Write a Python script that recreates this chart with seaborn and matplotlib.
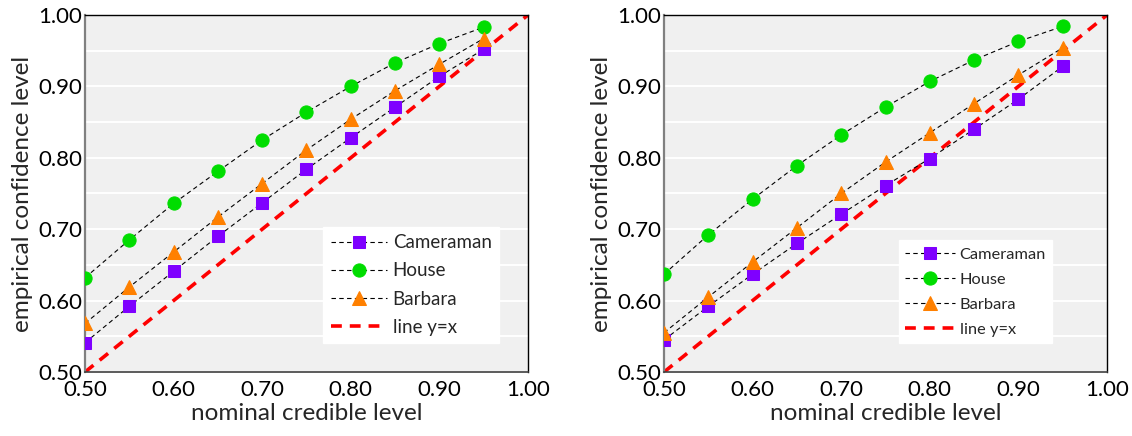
import numpy as np
import pandas as pd
import matplotlib
matplotlib.use("Agg")
import matplotlib.pyplot as plt
import seaborn as sns

# nominal credible levels (x axis)
nominal = [0.50, 0.55, 0.60, 0.65, 0.70, 0.75, 0.80, 0.85, 0.90, 0.95]

# left panel
left_cameraman = [0.541, 0.592, 0.641, 0.690, 0.737, 0.784, 0.828, 0.871, 0.914, 0.952]
left_house = [0.632, 0.685, 0.736, 0.781, 0.825, 0.864, 0.900, 0.933, 0.960, 0.983]
left_barbara = [0.568, 0.619, 0.668, 0.717, 0.764, 0.811, 0.854, 0.894, 0.931, 0.967]

# right panel
right_cameraman = [0.545, 0.592, 0.637, 0.680, 0.721, 0.761, 0.799, 0.840, 0.882, 0.928]
right_house = [0.637, 0.692, 0.742, 0.789, 0.832, 0.871, 0.907, 0.937, 0.963, 0.984]
right_barbara = [0.555, 0.605, 0.654, 0.702, 0.750, 0.794, 0.835, 0.876, 0.916, 0.954]

identity = [0.50, 1.00]
ticks = [0.5, 0.6, 0.7, 0.8, 0.9, 1.0]
tick_labels = ["0.50", "0.60", "0.70", "0.80", "0.90", "1.00"]

sns.set_style("white", {"axes.facecolor": "#F0F0F0"})
plt.rcParams["font.family"] = ["Lato", "DejaVu Sans"]

fig = plt.figure(figsize=(11.32, 4.36), dpi=100)
ax1 = fig.add_axes([0.0751, 0.1468, 0.3913, 0.8188])
ax2 = fig.add_axes([0.5866, 0.1468, 0.3913, 0.8188])

series_style = [
    ("Cameraman", "s", "#7F00FF", 9),
    ("House", "o", "#00DD00", 9.5),
    ("Barbara", "^", "#FF8000", 10.5),
]


def panel(ax, values, legend_size, legend_spacing, legend_anchor):
    for (name, mk, col, ms), ys in zip(series_style, values):
        df = pd.DataFrame({"x": nominal, "y": ys})
        sns.lineplot(data=df, x="x", y="y", ax=ax, color="black", lw=0.8,
                     linestyle=(0, (4, 3)), marker=mk, markersize=ms,
                     markerfacecolor=col, markeredgecolor=col, label=name,
                     zorder=3)
    sns.lineplot(x=identity, y=identity, ax=ax, color="#FF0000", lw=2.6,
                 linestyle=(0, (3, 2.2)), label="line y=x", zorder=2)

    ax.set_xlim(0.5, 1.0)
    ax.set_ylim(0.5, 1.0)
    ax.set_xticks(ticks)
    ax.set_xticklabels(tick_labels)
    ax.set_yticks(ticks)
    ax.set_yticklabels(tick_labels)
    ax.set_yticks(np.arange(0.55, 1.0, 0.1), minor=True)
    ax.yaxis.grid(True, which="both", color="white", lw=1.4)
    ax.set_axisbelow(True)
    ax.tick_params(axis="both", which="major", direction="in", length=5,
                   labelsize=16, colors="black")
    ax.tick_params(axis="x", which="major", pad=6)
    ax.tick_params(axis="y", which="major", pad=2)
    ax.tick_params(axis="y", which="minor", length=0)
    for s in ["top", "right"]:
        ax.spines[s].set_color("black")
        ax.spines[s].set_linewidth(1.0)
    ax.spines["left"].set_color("#808080")
    ax.spines["left"].set_linewidth(1.6)
    ax.spines["bottom"].set_color("#404040")
    ax.spines["bottom"].set_linewidth(1.2)
    ax.set_xlabel("nominal credible level", fontsize=17.5, labelpad=2)
    ax.set_ylabel("empirical confidence level", fontsize=17.5, labelpad=4)

    leg = ax.legend(loc="lower right", bbox_to_anchor=legend_anchor,
                    fontsize=legend_size, frameon=True, fancybox=False,
                    framealpha=1.0, edgecolor="white", handlelength=3.0,
                    handletextpad=0.3, borderpad=0.4,
                    labelspacing=legend_spacing, borderaxespad=0)
    leg.get_frame().set_facecolor("white")


panel(ax1, [left_cameraman, left_house, left_barbara], 13.5, 0.6, (0.935, 0.08))
panel(ax2, [right_cameraman, right_house, right_barbara], 11.8, 0.65, (0.877, 0.08))

fig.savefig("out.png", dpi=100)
